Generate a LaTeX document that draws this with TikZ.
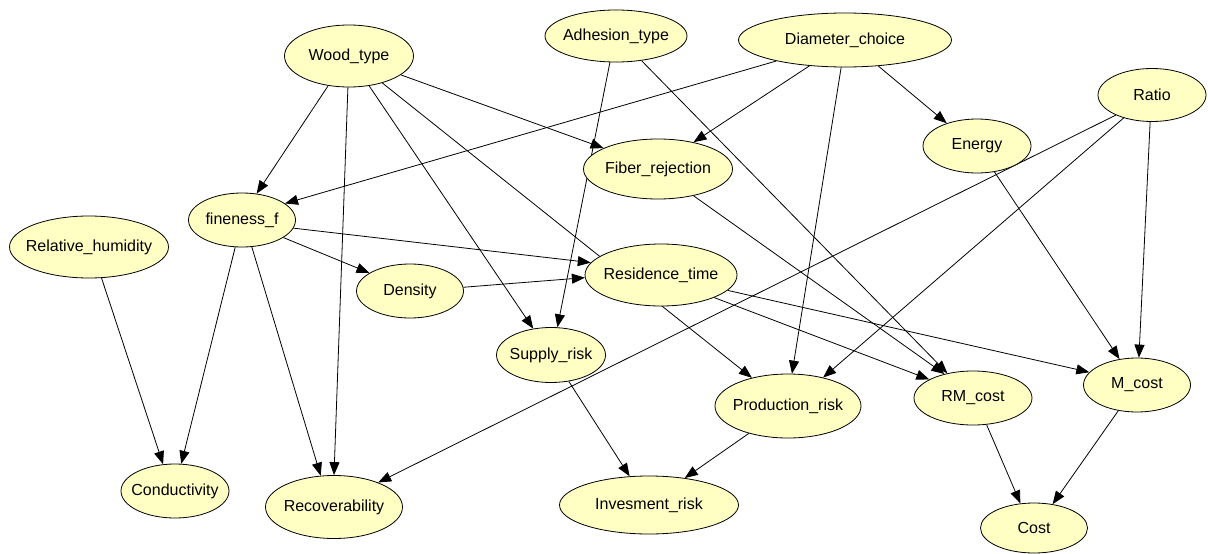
\documentclass[tikz,border=0pt]{standalone}
\usepackage{fontspec}
\setmainfont{Liberation Sans}
\usetikzlibrary{shapes.geometric,arrows.meta,backgrounds}
\definecolor{nodefill}{RGB}{255,255,196}
\begin{document}
\begin{tikzpicture}[x=1pt,y=-1pt,
  ell/.style={ellipse,draw=black,line width=0.8pt,fill=nodefill,inner sep=0pt},
  lbl/.style={font=\fontsize{16}{19}\selectfont},
  arr/.style={line width=0.8pt,-{Triangle[length=13pt,width=10pt]}}]
\useasboundingbox (0,0) rectangle (1208,554);
\newcommand{\bn}[6]{\node[ell,minimum width=#4pt,minimum height=#5pt,label={[lbl]center:#6}] (#1) at (#2,#3) {};}
\bn{wood}{349}{56}{129}{62}{Wood\_type}
\bn{adh}{616}{36}{142}{52}{Adhesion\_type}
\bn{diam}{845}{40}{213}{54}{Diameter\_choice}
\bn{ratio}{1152}{95}{108}{53}{Ratio}
\bn{energy}{977}{146}{108}{54}{Energy}
\bn{fiber}{658}{169}{149}{60}{Fiber\_rejection}
\bn{fine}{242}{220}{107}{54}{fineness\_f}
\bn{relhum}{89}{247}{159}{62}{Relative\_humidity}
\bn{density}{410}{291}{107}{54}{Density}
\bn{resid}{661}{275}{152}{62}{Residence\_time}
\bn{supply}{551}{355}{109}{55}{Supply\_risk}
\bn{prod}{788}{406}{146}{64}{Production\_risk}
\bn{rm}{973}{398}{118}{54}{RM\_cost}
\bn{mcost}{1137}{385}{107}{54}{M\_cost}
\bn{cond}{175}{491}{108}{54}{Conductivity}
\bn{recov}{334}{507}{137}{63}{Recoverability}
\bn{invest}{649}{505}{179}{58}{Invesment\_risk}
\bn{cost}{1034}{528}{107}{50}{Cost}
\begin{pgfonlayer}{background}
\draw[arr] (wood.-125) -- (fine.61);
\draw[arr] (wood.-92) -- (recov.90);
\draw[arr] (wood.-56) -- (supply.124);
\draw[arr] (wood.-39) -- (prod.142);
\draw[arr] (wood.-20) -- (fiber.159);
\draw[arr] (diam.-163) -- (fine.21);
\draw[arr] (diam.-144.5) -- (fiber.37);
\draw[arr] (diam.-98) -- (prod.83);
\draw[arr] (diam.-38.5) -- (energy.143);
\draw[arr] (adh.-103) -- (supply.77);
\draw[arr] (adh.-44) -- (rm.136);
\draw[arr] (ratio.-151) -- (recov.29);
\draw[arr] (ratio.-141.6) -- (prod.39.6);
\draw[arr] (ratio.-94) -- (mcost.86);
\draw[arr] (energy.-56) -- (mcost.124);
\draw[arr] (fiber.-37) -- (rm.140);
\draw[arr] (fine.-9) -- (resid.170);
\draw[arr] (fine.-23) -- (density.156);
\draw[arr] (fine.-104.5) -- (cond.77);
\draw[arr] (fine.-70) -- (recov.113);
\draw[arr] (relhum.-68.5) -- (cond.114);
\draw[arr] (density.4) -- (resid.182);
\draw[arr] (resid.-23) -- (rm.157);
\draw[arr] (resid.-13) -- (mcost.165);
\draw[arr] (supply.-56) -- (invest.124);
\draw[arr] (prod.-145.7) -- (invest.37);
\draw[arr] (rm.-63.4) -- (cost.119);
\draw[arr] (mcost.-126.5) -- (cost.52);
\end{pgfonlayer}
\end{tikzpicture}
\end{document}
